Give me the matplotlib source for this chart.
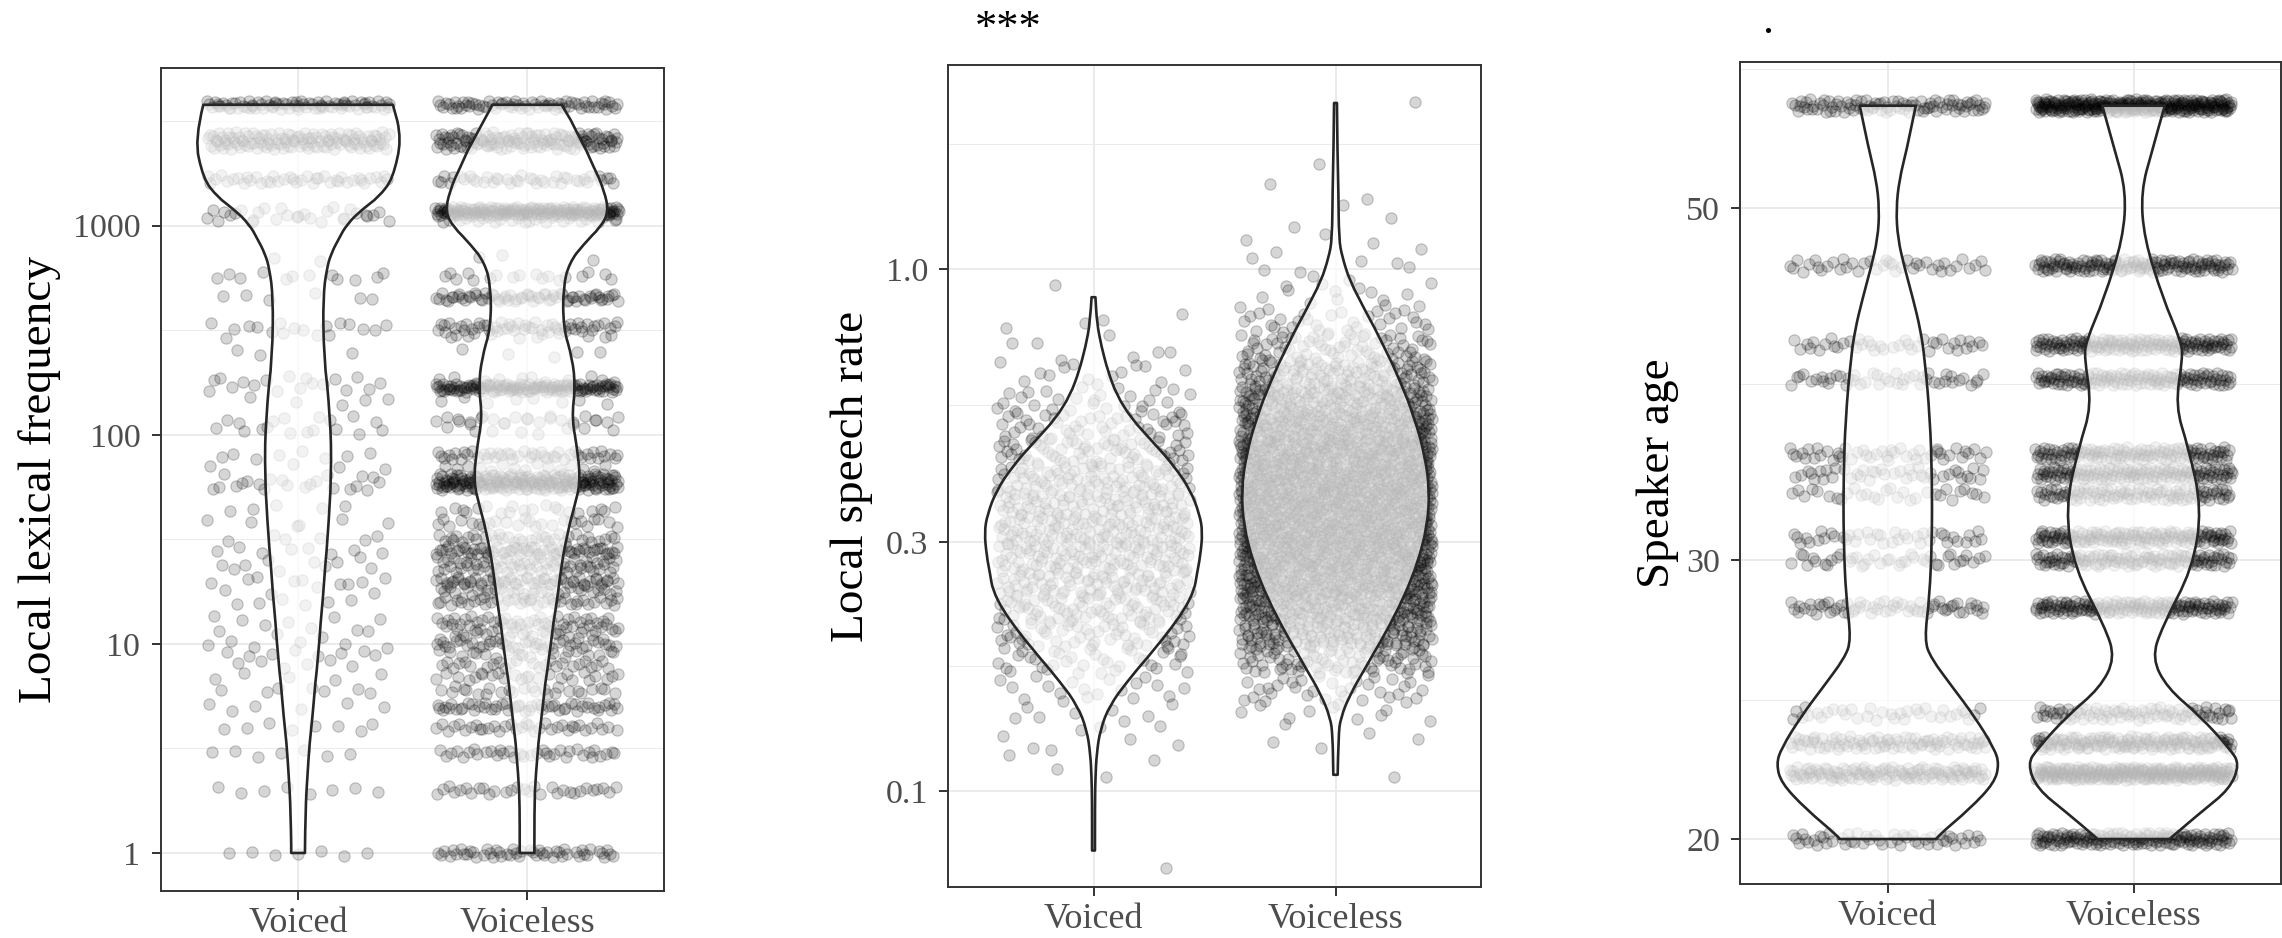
"""
Three violin + jitter panels (lexical frequency, speech rate, speaker age)
for voiced vs voiceless tokens, ggplot theme_bw look.
"""
import matplotlib
matplotlib.use("Agg")
import matplotlib.pyplot as plt
import numpy as np
from matplotlib.patches import PathPatch
from matplotlib.path import Path
from matplotlib.ticker import FixedLocator, NullFormatter

W, H, DPI = 2282, 938, 100
SERIF = ["Liberation Serif", "DejaVu Serif"]
INK, GRID, TICK_TXT, VLN = "#333333", "#EBEBEB", "#4D4D4D", "#262626"

plt.rcParams.update({
    "font.family": SERIF,
    "axes.edgecolor": INK, "axes.linewidth": 1.4,
    "xtick.color": INK, "ytick.color": INK,
    "xtick.labelcolor": TICK_TXT, "ytick.labelcolor": TICK_TXT,
    "xtick.major.size": 6.7, "ytick.major.size": 6.7,
    "xtick.major.width": 1.4, "ytick.major.width": 1.4,
    "xtick.major.pad": 5, "ytick.major.pad": 8,
    "xtick.labelsize": 26, "ytick.labelsize": 24.5,
})

GROUPS = ["Voiced", "Voiceless"]

# =============================================================================
# Panel 1 - local lexical frequency: distinct values and token count on each
# =============================================================================
freq_levels = [1, 2, 3, 4, 5, 6, 7, 8, 9, 10, 11, 12, 13, 16, 18, 20, 23, 25, 28, 32,
               38, 44, 57, 62, 70, 80, 105, 118, 145, 168, 183, 246, 304, 331, 455, 573,
               698, 1084, 1173, 1663, 2438, 2673, 3785]
freq_voiced = [7, 8, 7, 8, 6, 7, 5, 6, 8, 6, 3, 4, 5, 6, 4, 9, 5, 5, 8, 6,
               6, 5, 14, 8, 4, 8, 10, 8, 5, 8, 10, 3, 6, 12, 6, 12,
               2, 15, 15, 40, 60, 60, 80]
freq_voiceless = [50, 30, 35, 35, 50, 25, 25, 25, 20, 35, 20, 25, 30, 40, 30, 55, 35, 30, 60, 35,
                  25, 20, 110, 90, 15, 45, 8, 25, 8, 130, 12, 5, 18, 45, 65, 18,
                  3, 35, 170, 40, 65, 65, 70]

# violin outlines: value, half width (category units)
freq_vln_voiced_y = [3785, 2553, 1663, 1365, 1197, 1016, 861, 731, 620, 446, 231, 119,
                     61.8, 31.9, 16.5, 8.55, 4.43, 2.29, 1.19, 1]
freq_vln_voiced_w = [0.414, 0.453, 0.414, 0.351, 0.281, 0.214, 0.177, 0.144, 0.125, 0.109,
                     0.112, 0.141, 0.146, 0.130, 0.109, 0.088, 0.063, 0.039, 0.030, 0.030]
freq_vln_voiceless_y = [3785, 2637, 1897, 1459, 1159, 984, 806, 662, 508, 321, 231, 166, 119,
                        80.4, 57.8, 44.5, 31.9, 23.0, 16.5, 8.55, 4.43, 2.29, 1.65, 1]
freq_vln_voiceless_w = [0.151, 0.229, 0.292, 0.338, 0.356, 0.322, 0.244, 0.185, 0.158, 0.158,
                        0.198, 0.211, 0.195, 0.223, 0.232, 0.205, 0.172, 0.149, 0.133, 0.097,
                        0.063, 0.037, 0.032, 0.032]

# =============================================================================
# Panel 2 - local speech rate, binned (bin centre value, tokens per bin)
# =============================================================================
rate_levels = [0.0708, 0.0794, 0.0891, 0.1, 0.112, 0.126, 0.141, 0.158, 0.178, 0.2, 0.224,
               0.251, 0.282, 0.316, 0.355, 0.398, 0.447, 0.501, 0.562, 0.631, 0.708, 0.794,
               0.891, 1.0, 1.12, 1.26, 1.41, 1.58, 1.78, 2.0, 2.24]
rate_voiced = [1, 0, 0, 0, 4, 7, 10, 18, 36, 54, 72,
               84, 94, 96, 90, 80, 66, 46, 28, 14, 7, 4,
               1, 0, 0, 0, 0, 0, 0, 0, 0]
rate_voiceless = [0, 0, 0, 0, 1, 4, 13, 32, 78, 140, 190,
                  235, 260, 275, 280, 275, 255, 215, 165, 110, 65, 33,
                  15, 8, 5, 3, 2, 1, 0, 1, 0]

rate_vln_voiced_y = [0.883, 0.788, 0.709, 0.638, 0.574, 0.516, 0.465, 0.418, 0.376, 0.339,
                     0.313, 0.281, 0.260, 0.243, 0.222, 0.200, 0.180, 0.1617, 0.1455, 0.131,
                     0.1178, 0.106, 0.0954, 0.0769]
rate_vln_voiced_w = [0.008, 0.014, 0.033, 0.059, 0.095, 0.157, 0.247, 0.335, 0.401, 0.438,
                     0.451, 0.441, 0.427, 0.417, 0.375, 0.304, 0.223, 0.138, 0.066, 0.028,
                     0.013, 0.008, 0.006, 0.006]
rate_vln_voiceless_y = [2.08, 1.69, 1.41, 1.14, 1.053, 0.948, 0.831, 0.709, 0.605, 0.516,
                        0.441, 0.376, 0.321, 0.274, 0.234, 0.200, 0.1705, 0.1535, 0.138,
                        0.1275, 0.1074]
rate_vln_voiceless_w = [0.006, 0.008, 0.012, 0.014, 0.028, 0.059, 0.123, 0.201, 0.270, 0.327,
                        0.368, 0.389, 0.379, 0.341, 0.282, 0.206, 0.119, 0.062, 0.021,
                        0.012, 0.009]

# =============================================================================
# Panel 3 - speaker age: distinct ages and token count on each
# =============================================================================
age_levels = [20, 22, 23, 24, 28, 30, 31, 33, 34, 35, 39, 41, 46, 58]
age_voiced = [50, 120, 90, 35, 60, 40, 40, 30, 40, 45, 45, 40, 40, 90]
age_voiceless = [150, 260, 150, 80, 150, 120, 140, 100, 130, 120, 130, 150, 140, 280]

age_vln_voiced_y = [58, 54.4, 52.1, 49.9, 47.8, 45.8, 43.8, 41.9, 40.2, 36.8, 33.8, 30.9,
                    28.4, 26.7, 26.0, 24.9, 23.9, 22.8, 22.3, 21.7, 20.9, 20.05, 20]
age_vln_voiced_w = [0.114, 0.077, 0.047, 0.034, 0.041, 0.069, 0.103, 0.133, 0.150, 0.172,
                    0.180, 0.180, 0.170, 0.149, 0.176, 0.266, 0.352, 0.434, 0.453, 0.434,
                    0.335, 0.198, 0.198]
age_vln_voiceless_y = [58, 54.4, 51.2, 47.8, 43.8, 41.2, 40.2, 37.5, 35.3, 32.3, 29.6, 27.2,
                       26.0, 24.9, 23.9, 22.8, 22.3, 21.5, 20.8, 20]
age_vln_voiceless_w = [0.127, 0.077, 0.030, 0.043, 0.120, 0.193, 0.200, 0.170, 0.223, 0.278,
                       0.240, 0.116, 0.075, 0.137, 0.271, 0.391, 0.432, 0.391, 0.275, 0.146]


# -----------------------------------------------------------------------------
# helpers
# -----------------------------------------------------------------------------
def halton(k, base):
    out = np.zeros(len(k))
    k = k.copy()
    f = 1.0
    while k.any():
        f /= base
        out += f * (k % base)
        k //= base
    return out


def spread(n, start):
    # Halton (2, 3) offsets in [-0.5, 0.5): placement only, stands in for jitter
    k = np.arange(start, start + n)
    return halton(k, 2) - 0.5, halton(k, 3) - 0.5


def draw_points(ax, levels, counts, centre, ydec, start):
    xs, ys = [], []
    for lv, n in zip(levels, counts):
        u, v = spread(n, start)
        start += n
        xs.append(centre + 0.8 * u)
        ys.append(lv * 10 ** (2 * ydec * v))
    ax.scatter(np.concatenate(xs), np.concatenate(ys), s=66,
               facecolor=(0, 0, 0, 0.16), edgecolor=(0, 0, 0, 0.22),
               linewidth=0.8, zorder=2)
    return start


def smooth_side(pts):
    # quadratic beziers through segment midpoints, ends kept
    verts, codes = [], []
    for i in range(1, len(pts) - 1):
        verts += [pts[i], (pts[i] + pts[i + 1]) / 2]
        codes += [Path.CURVE3, Path.CURVE3]
    verts.append(pts[-1])
    codes.append(Path.LINETO)
    return verts, codes


def draw_violin(ax, centre, ys, half):
    ys, half = np.asarray(ys, float), np.asarray(half, float)
    left = np.column_stack([centre - half, ys])
    right = np.column_stack([centre + half, ys])[::-1]
    verts, codes = [left[0]], [Path.MOVETO]
    v, c = smooth_side(left)
    verts += v; codes += c
    verts.append(right[0]); codes.append(Path.LINETO)
    v, c = smooth_side(right)
    verts += v; codes += c
    verts.append(left[0]); codes.append(Path.CLOSEPOLY)
    ax.add_patch(PathPatch(Path(np.array(verts), codes), facecolor=(1, 1, 1, 0.7),
                           edgecolor=VLN, linewidth=1.9, joinstyle="round", zorder=3))


def px_axes(fig, left, top, right, bottom):
    return fig.add_axes([left / W, 1 - bottom / H, (right - left) / W, (bottom - top) / H])


def style_axis(ax, ylim, yticks, ylabels, minor):
    ax.set_yscale("log")
    ax.set_xlim(0.4, 2.6)
    ax.set_ylim(*ylim)
    ax.set_xticks([1, 2])
    ax.set_xticklabels(GROUPS)
    ax.yaxis.set_major_locator(FixedLocator(yticks))
    ax.set_yticklabels(ylabels)
    ax.yaxis.set_minor_locator(FixedLocator(minor))
    ax.yaxis.set_minor_formatter(NullFormatter())
    ax.tick_params(which="minor", length=0)
    ax.set_axisbelow(True)
    ax.grid(which="major", color=GRID, linewidth=1.4, zorder=0)
    ax.grid(which="minor", axis="y", color=GRID, linewidth=0.7, zorder=0)


fig = plt.figure(figsize=(W / DPI, H / DPI), dpi=DPI)

# panel 1
ax1 = px_axes(fig, 160.7, 68.3, 664.4, 890.7)
s = draw_points(ax1, freq_levels, freq_voiced, 1, 0.02, 1)
draw_points(ax1, freq_levels, freq_voiceless, 2, 0.02, s)
draw_violin(ax1, 1, freq_vln_voiced_y, freq_vln_voiced_w)
draw_violin(ax1, 2, freq_vln_voiceless_y, freq_vln_voiceless_w)
style_axis(ax1, (0.660, 5657), [1, 10, 100, 1000], ["1", "10", "100", "1000"],
           [10 ** 0.5, 10 ** 1.5, 10 ** 2.5, 10 ** 3.5])
fig.text(40 / W, 1 - 479.5 / H, "Local lexical frequency", rotation=90,
         ha="center", va="center", fontsize=34)

# panel 2
ax2 = px_axes(fig, 948.3, 65.5, 1480.7, 887.2)
s = draw_points(ax2, rate_levels, rate_voiced, 1, 0.025, 7)
draw_points(ax2, rate_levels, rate_voiceless, 2, 0.025, s)
draw_violin(ax2, 1, rate_vln_voiced_y, rate_vln_voiced_w)
draw_violin(ax2, 2, rate_vln_voiceless_y, rate_vln_voiceless_w)
style_axis(ax2, (0.06541, 2.454), [0.1, 0.3, 1.0], ["0.1", "0.3", "1.0"],
           [0.1732, 0.5477, 1.732])
fig.text(852 / W, 1 - 476 / H, "Local speech rate", rotation=90,
         ha="center", va="center", fontsize=34)
fig.text(975 / W, 1 - 40 / H, "***", ha="left", va="baseline", fontsize=32)

# panel 3
ax3 = px_axes(fig, 1740.3, 62, 2281, 884.2)
s = draw_points(ax3, age_levels, age_voiced, 1, 0.004, 3)
draw_points(ax3, age_levels, age_voiceless, 2, 0.004, s)
draw_violin(ax3, 1, age_vln_voiced_y, age_vln_voiced_w)
draw_violin(ax3, 2, age_vln_voiceless_y, age_vln_voiceless_w)
style_axis(ax3, (18.73, 61.8), [20, 30, 50], ["20", "30", "50"],
           [24.49, 38.73, 61.2])
fig.text(1658 / W, 1 - 473 / H, "Speaker age", rotation=90,
         ha="center", va="center", fontsize=34)
fig.text(1762 / W, 1 - 33 / H, ".", ha="left", va="baseline", fontsize=32)

fig.savefig("out.png", dpi=DPI, facecolor="white")
